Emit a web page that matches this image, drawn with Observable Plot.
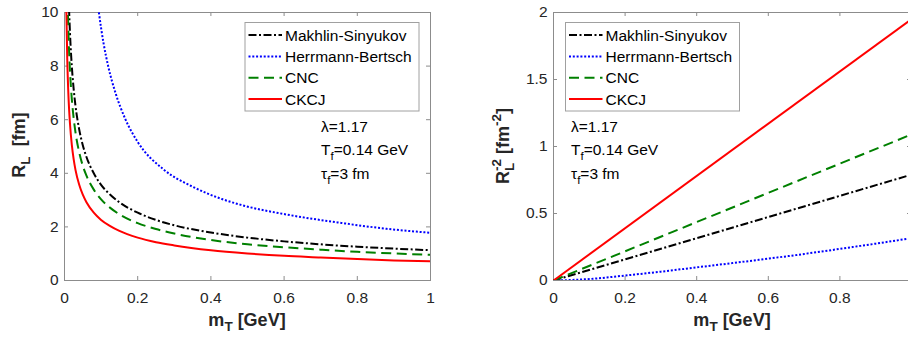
<!DOCTYPE html>
<html><head><meta charset="utf-8">
<script src="https://cdn.jsdelivr.net/npm/d3@7"></script>
<script src="https://cdn.jsdelivr.net/npm/@observablehq/plot@0.6"></script>
<style>
body{margin:0;background:#fff;}
#fig{position:relative;width:908px;height:338px;overflow:hidden;background:#fff;}
#fig svg{position:absolute;top:0;}
</style></head><body><div id="fig"></div>
<script>
// ---------- data ----------
const seriesNames = ["Makhlin-Sinyukov", "Herrmann-Bertsch", "CNC", "CKCJ"];

// left panel: R_L [fm] vs m_T [GeV]
const mtMS_L = [0.01, 0.0125, 0.015, 0.02, 0.025, 0.03, 0.04, 0.05, 0.06, 0.08, 0.1, 0.125, 0.15, 0.2, 0.25, 0.3, 0.4, 0.5, 0.6, 0.7, 0.8, 0.9, 1.0];
const rMS_L  = [11.3, 10.11, 9.23, 7.99, 7.15, 6.52, 5.65, 5.05, 4.61, 4.00, 3.57, 3.20, 2.92, 2.53, 2.26, 2.06, 1.79, 1.60, 1.46, 1.35, 1.26, 1.19, 1.13];

const mtHB_L = [0.09, 0.094, 0.107, 0.12, 0.14, 0.166, 0.2, 0.27, 0.35, 0.43, 0.48, 0.62, 0.75, 0.88, 1.0];
const rHB_L  = [10.43, 10.0, 8.83, 7.96, 6.97, 6.03, 5.17, 4.15, 3.50, 3.04, 2.83, 2.43, 2.16, 1.93, 1.78];

const mtCNC_L = [0.0075, 0.01, 0.0125, 0.015, 0.02, 0.025, 0.03, 0.04, 0.05, 0.06, 0.08, 0.1, 0.125, 0.15, 0.2, 0.25, 0.3, 0.4, 0.5, 0.6, 0.7, 0.8, 0.9, 1.0];
const rCNC_L  = [11.06, 9.58, 8.57, 7.82, 6.77, 6.06, 5.53, 4.79, 4.28, 3.91, 3.39, 3.03, 2.71, 2.47, 2.14, 1.92, 1.75, 1.51, 1.35, 1.24, 1.15, 1.07, 1.01, 0.96];

const mtCKCJ_L = [0.004, 0.005, 0.0075, 0.01, 0.0125, 0.015, 0.02, 0.025, 0.03, 0.04, 0.05, 0.06, 0.08, 0.1, 0.125, 0.15, 0.2, 0.25, 0.3, 0.4, 0.5, 0.6, 0.7, 0.8, 0.9, 1.0];
const rCKCJ_L  = [11.32, 10.13, 8.27, 7.16, 6.40, 5.85, 5.06, 4.53, 4.13, 3.58, 3.20, 2.92, 2.53, 2.26, 2.03, 1.85, 1.60, 1.43, 1.31, 1.13, 1.01, 0.92, 0.86, 0.80, 0.75, 0.72];

// right panel: R_L^-2 [fm^-2] vs m_T [GeV]
const mtMS_R = [0, 1.0];
const vMS_R  = [0, 0.79];
const mtHB_R = [0, 0.05, 0.1, 0.2, 0.3, 0.4, 0.5, 0.6, 0.7, 0.8, 0.9, 1.0];
const vHB_R  = [0, 0.004, 0.011, 0.037, 0.066, 0.098, 0.130, 0.163, 0.198, 0.236, 0.275, 0.316];
const mtCNC_R = [0, 1.0];
const vCNC_R  = [0, 1.09];
const mtCKCJ_R = [0, 1.0];
const vCKCJ_R  = [0, 1.95];

const xTicks = [0, 0.2, 0.4, 0.6, 0.8, 1];
const xTickLabelsR = [0, 0.2, 0.4, 0.6, 0.8];   // the "1" label falls outside the picture on the right
const yTicksL = [0, 2, 4, 6, 8, 10];
const yTicksR = [0, 0.5, 1, 1.5, 2];

// ---------- styles ----------
const styles = [
  {stroke: "#000000", dash: "8 2.5 2 2.5"},
  {stroke: "#0000ff", dash: "2 1.8"},
  {stroke: "#008000", dash: "10 5.5"},
  {stroke: "#ff0000", dash: null}
];
const FONT = "'Liberation Sans', Arial, Helvetica, sans-serif";
const FRAME = "#8c8c8c";
const TXT = "#262626";

function rows(xs, ys) { return xs.map((x, i) => ({x, y: ys[i]})); }

function panel({width, marginLeft, marginRight, yDomain, yTicks, xLabels, data}) {
  const marginTop = 12, marginBottom = 58, height = 338;
  const fw = width - marginLeft - marginRight;
  const fh = height - marginTop - marginBottom;
  const tl = 4;
  const marks = [
    Plot.frame({stroke: FRAME, strokeWidth: 1}),
    Plot.tickX(xTicks, {x: d => d, stroke: FRAME, insetTop: fh - tl}),
    Plot.tickX(xTicks, {x: d => d, stroke: FRAME, insetBottom: fh - tl}),
    Plot.tickY(yTicks, {y: d => d, stroke: FRAME, insetRight: fw - tl}),
    Plot.tickY(yTicks, {y: d => d, stroke: FRAME, insetLeft: fw - tl}),
    Plot.axisX(xLabels, {tickSize: 0, tickPadding: 11, tickFormat: d3.format("~g"), label: null, fill: TXT, fontSize: 15.5}),
    Plot.axisY(yTicks, {tickSize: 0, tickPadding: 6, tickFormat: d3.format("~g"), label: null, fill: TXT, fontSize: 15.5})
  ];
  data.forEach((d, i) => {
    marks.push(Plot.line(d, {x: "x", y: "y", stroke: styles[i].stroke, strokeWidth: 2,
      strokeDasharray: styles[i].dash || undefined, curve: "monotone-x", clip: true, strokeLinecap: "butt"}));
  });
  return Plot.plot({
    width, height, marginLeft, marginRight, marginTop, marginBottom,
    x: {domain: [0, 1], axis: null},
    y: {domain: yDomain, axis: null},
    style: {fontFamily: FONT, fontSize: "15.5px", color: TXT, background: "white", overflow: "visible"},
    marks
  });
}

function rich(g, parts, attrs) {
  const t = g.append("text");
  Object.entries(attrs).forEach(([k, v]) => t.attr(k, v));
  parts.forEach(p => {
    const ts = t.append("tspan").text(p.t);
    if (p.size) ts.attr("font-size", p.size);
    if (p.dy) ts.attr("dy", p.dy);
    if (p.dx) ts.attr("dx", p.dx);
  });
  return t;
}

function decorate(svg, o) {
  const g = d3.select(svg).append("g").attr("font-family", FONT).attr("fill", TXT).attr("text-anchor", "start");
  // legend
  const lg = g.append("g");
  lg.append("rect").attr("x", o.legX).attr("y", 22.5).attr("width", 174).attr("height", 88.5)
    .attr("fill", "white").attr("stroke", "#a0a0a0").attr("stroke-width", 1);
  const rowsY = [35, 56.5, 77.7, 99];
  seriesNames.forEach((name, i) => {
    const y = rowsY[i];
    lg.append("line").attr("x1", o.legX + 3.5).attr("x2", o.legX + 37).attr("y1", y).attr("y2", y)
      .attr("stroke", styles[i].stroke).attr("stroke-width", 2)
      .attr("stroke-dasharray", styles[i].dash);
    lg.append("text").attr("x", o.legX + 40).attr("y", y + 5.5).attr("font-size", 15.5)
      .attr("text-anchor", "start").attr("fill", "#000").text(name);
  });
  // annotations
  const ax = o.annX;
  const ann = {"font-size": 15.5, fill: "#000", "text-anchor": "start"};
  rich(g, [{t: "\u03bb=1.17"}], {x: ax, y: 132, ...ann});
  rich(g, [{t: "T"}, {t: "f", size: 11.5, dy: 5}, {t: "=0.14 GeV", dy: -5}], {x: ax, y: 155, ...ann});
  rich(g, [{t: "\u03c4"}, {t: "f", size: 11.5, dy: 5}, {t: "=3 fm", dy: -5}], {x: ax, y: 179, ...ann});
  // x label
  rich(g, [{t: "m"}, {t: "T", size: 13.5, dy: 5}, {t: " [GeV]", dy: -5}],
    {x: o.xLabX, y: 326, "font-size": 18, "font-weight": "bold", "text-anchor": "middle"});
  // y label
  if (o.right) {
    const t = g.append("text").attr("transform", `translate(${o.yLabX},146) rotate(-90)`)
      .attr("font-size", 18).attr("font-weight", "bold").attr("text-anchor", "middle");
    t.append("tspan").text("R");
    const L = t.append("tspan").text("L").attr("font-size", 13.5).attr("dy", 5);
    const lw = L.node().getComputedTextLength();
    t.append("tspan").text("-2").attr("font-size", 13.5).attr("dx", -lw).attr("dy", -13);
    t.append("tspan").text(" [fm").attr("dy", 8);
    t.append("tspan").text("-2").attr("font-size", 13.5).attr("dy", -8);
    t.append("tspan").text("]").attr("dy", 8);
  } else {
    rich(g, [{t: "R"}, {t: "L", size: 13.5, dy: 5}, {t: "  [fm]", dy: -5}],
      {transform: `translate(${o.yLabX},145) rotate(-90)`, "font-size": 18, "font-weight": "bold", "text-anchor": "middle"});
  }
}

const fig = document.getElementById("fig");

const left = panel({width: 454, marginLeft: 64, marginRight: 24, yDomain: [0, 10], yTicks: yTicksL, xLabels: xTicks,
  data: [rows(mtMS_L, rMS_L), rows(mtHB_L, rHB_L), rows(mtCNC_L, rCNC_L), rows(mtCKCJ_L, rCKCJ_L)]});
left.style.left = "0px";
fig.appendChild(left);
decorate(left, {legX: 245, annX: 321, xLabX: 247, yLabX: 25, right: false});

const right = panel({width: 460, marginLeft: 99, marginRight: 3, yDomain: [0, 2], yTicks: yTicksR, xLabels: xTickLabelsR,
  data: [rows(mtMS_R, vMS_R), rows(mtHB_R, vHB_R), rows(mtCNC_R, vCNC_R), rows(mtCKCJ_R, vCKCJ_R)]});
right.style.left = "454px";
fig.appendChild(right);
decorate(right, {legX: 111.5, annX: 117, xLabX: 278, yLabX: 55, right: true});
</script>
</body></html>
